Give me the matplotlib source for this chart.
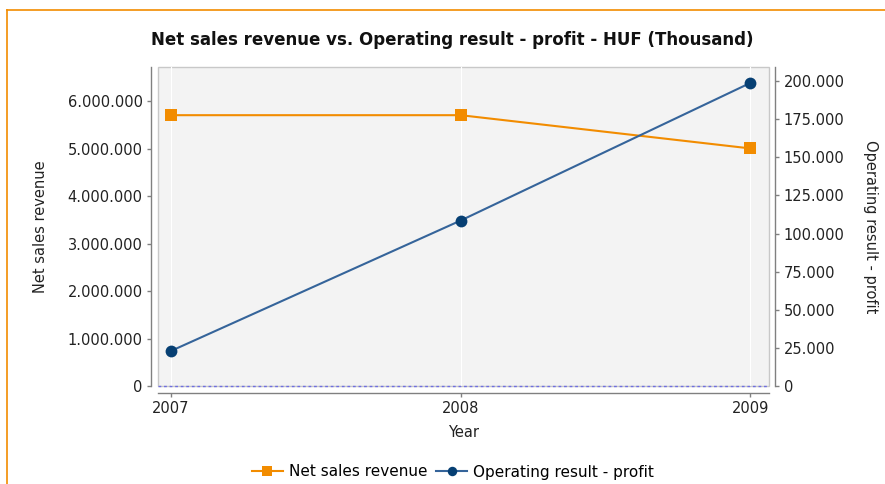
import matplotlib
matplotlib.use("Agg")
import matplotlib.pyplot as plt
from matplotlib.lines import Line2D
from matplotlib.ticker import FuncFormatter, MultipleLocator

years = [2007, 2008, 2009]
net_sales = [5705000, 5705000, 5005000]
op_result = [23000, 108500, 198700]

title = "Net sales revenue vs. Operating result - profit - HUF (Thousand)"
orange = "#F28C00"
navy = "#063F73"
navy_line = "#35649A"

plt.rcParams['font.family'] = ['DejaVu Sans']

fig = plt.figure(figsize=(8.85, 4.84), dpi=100)
W, H = 885, 484
L, R, T, B = 158, 769, 67, 386
ax = fig.add_axes([L / W, 1 - B / H, (R - L) / W, (B - T) / H])
ax2 = ax.twinx()

def dotfmt(v, pos):
    return f"{int(round(v)):,}".replace(",", ".")

ax.set_facecolor("#F3F3F3")
ax.patch.set_edgecolor("#C8C8C8")
ax.patch.set_linewidth(1.0)
ax.set_zorder(0)
ax2.set_zorder(1)
ax2.patch.set_visible(False)

ax.set_xlim(2007 - 0.045, 2009 + 0.065)
ax.set_ylim(0, 6720000)
ax2.set_ylim(0, 209200)

ax.axhline(0, color="#6F6FE0", lw=1.0, ls=(0, (2, 2)), zorder=5, clip_on=False)
ax.grid(True, axis="x", color="white", lw=0.8)

ax.plot(years, net_sales, color=orange, lw=1.5, marker="s", markersize=9,
        markeredgewidth=0, zorder=3, label="Net sales revenue", clip_on=False)
ax2.plot(years, op_result, color=navy_line, lw=1.5, marker="o", markersize=8.5,
         markerfacecolor=navy, markeredgewidth=0, zorder=3,
         label="Operating result - profit", clip_on=False)

for a in (ax, ax2):
    a.spines["top"].set_visible(False)
ax.spines["right"].set_visible(False)
ax2.spines["left"].set_visible(False)
ax2.spines["bottom"].set_visible(False)
ax.spines["left"].set_position(("outward", 5))
ax.spines["bottom"].set_position(("outward", 5))
ax2.spines["right"].set_position(("outward", 4.5))
for sp in (ax.spines["left"], ax.spines["bottom"], ax2.spines["right"]):
    sp.set_color("#808080")
    sp.set_linewidth(1.0)

ax.set_xticks(years)
ax.set_xticklabels([str(y) for y in years])
ax.yaxis.set_major_locator(MultipleLocator(1000000))
ax.yaxis.set_major_formatter(FuncFormatter(dotfmt))
ax2.yaxis.set_major_locator(MultipleLocator(25000))
ax2.yaxis.set_major_formatter(FuncFormatter(dotfmt))

for a in (ax, ax2):
    a.tick_params(axis="both", labelsize=10.5, colors="#808080", labelcolor="#222222",
                  length=3, width=1, pad=3)

ax.set_xlabel("Year", fontsize=10.5, color="#222222", labelpad=6)
ax.set_ylabel("Net sales revenue", fontsize=10.5, color="#222222", labelpad=14)
ax2.set_ylabel("Operating result - profit", fontsize=10.5, color="#222222",
               rotation=-90, labelpad=24)

fig.text(452 / W, 1 - 40 / H, title, ha="center", va="center",
         fontsize=12, fontweight="bold", color="#111111")

h1, l1 = ax.get_legend_handles_labels()
h2, l2 = ax2.get_legend_handles_labels()
fig.legend(h1 + h2, l1 + l2, loc="center", bbox_to_anchor=(453 / W, 1 - 472 / H),
           ncol=2, frameon=False, fontsize=11, handlelength=2.0, handletextpad=0.4,
           columnspacing=0.6, markerscale=0.8)

fig.add_artist(Line2D([6.5 / W, 1], [1 - 9.5 / H, 1 - 9.5 / H], color=orange, lw=1.2,
                      transform=fig.transFigure))
fig.add_artist(Line2D([6.5 / W, 6.5 / W], [0, 1 - 9.5 / H], color=orange, lw=1.2,
                      transform=fig.transFigure))

fig.savefig("out.png", dpi=100)
